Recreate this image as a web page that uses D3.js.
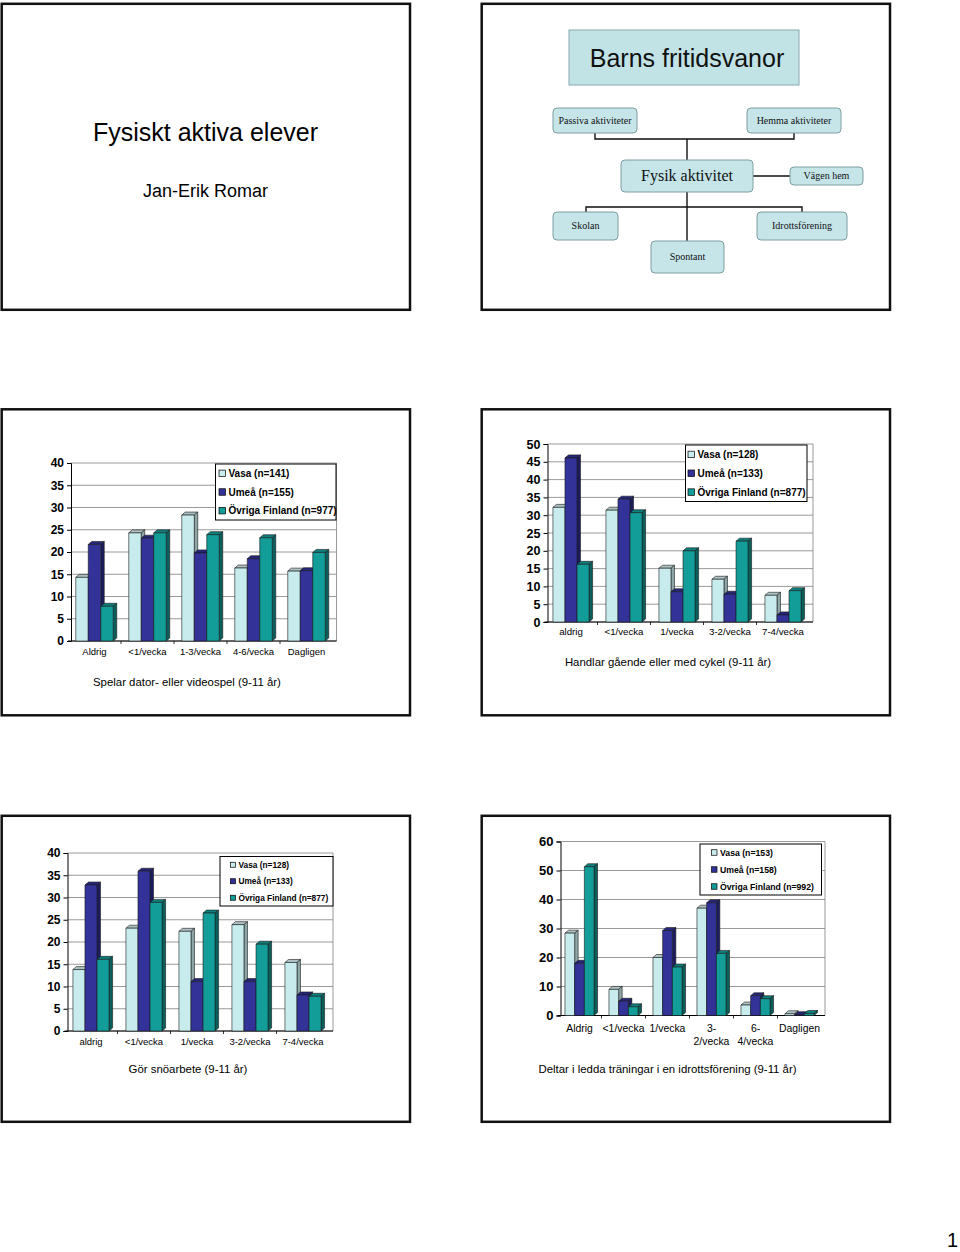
<!DOCTYPE html>
<html lang="sv">
<head>
<meta charset="UTF-8">
<title>Fysiskt aktiva elever</title>
<script src="https://d3js.org/d3.v7.min.js"></script>
<style>
    body { margin: 0; padding: 0; background: #fff; }
    svg { display: block; font-family: Arial, "Liberation Sans", sans-serif; }
</style>
</head>
<body>
<div id="page"></div>
<script>
// ---- data ----
const seriesColors = ["vasa", "umea", "ovriga"];

// Spelar dator- eller videospel
const catsSpel = ["Aldrig", "<1/vecka", "1-3/vecka", "4-6/vecka", "Dagligen"];
const legendSpel = ["Vasa (n=141)", "Umeå (n=155)", "Övriga Finland (n=977)"];
const vasaSpel = [14.3, 24.3, 28.3, 16.4, 15.7];
const umeaSpel = [21.7, 23.1, 19.8, 18.5, 15.8];
const ovrigaSpel = [7.8, 24.3, 23.9, 23.2, 19.9];

// Handlar gående eller med cykel
const catsHandla = ["aldrig", "<1/vecka", "1/vecka", "3-2/vecka", "7-4/vecka"];
const legendHandla = ["Vasa (n=128)", "Umeå (n=133)", "Övriga Finland (n=877)"];
const vasaHandla = [32.2, 31.4, 15.1, 12.0, 7.5];
const umeaHandla = [46.1, 34.5, 8.5, 7.8, 2.0];
const ovrigaHandla = [16.2, 30.7, 20.0, 22.7, 8.8];

// Gör snöarbete
const catsSno = ["aldrig", "<1/vecka", "1/vecka", "3-2/vecka", "7-4/vecka"];
const legendSno = ["Vasa (n=128)", "Umeå (n=133)", "Övriga Finland (n=877)"];
const vasaSno = [13.8, 23.1, 22.4, 23.9, 15.4];
const umeaSno = [32.8, 35.9, 11.1, 11.1, 8.1];
const ovrigaSno = [16.1, 28.9, 26.5, 19.5, 7.8];

// Deltar i ledda träningar
const catsTraning = ["Aldrig", "<1/vecka", "1/vecka", "3-\n2/vecka", "6-\n4/vecka", "Dagligen"];
const legendTraning = ["Vasa (n=153)", "Umeå (n=158)", "Övriga Finland (n=992)"];
const vasaTraning = [28.4, 9.0, 20.0, 37.0, 3.6, 0.6];
const umeaTraning = [18.0, 4.9, 29.3, 38.9, 6.8, 0.3];
const ovrigaTraning = [51.3, 3.0, 16.7, 21.4, 5.8, 0.7];

// ---- colours ----
const face = {
    vasa:   { front: "#c8ecee", top: "#aec2c4", side: "#8ea6a8" },
    umea:   { front: "#323299", top: "#26267a", side: "#1c1c5e" },
    ovriga: { front: "#129d99", top: "#0d7f7c", side: "#0a5e5c" }
};

const svg = d3.select("#page").append("svg")
    .attr("width", 960)
    .attr("height", 1252);

svg.append("rect").attr("width", 960).attr("height", 1252).attr("fill", "#fff");

// slide frames
const frameW = 408.3, frameH = 306;
[[1.7, 3.8], [481.7, 3.8], [1.7, 409.3], [481.7, 409.3], [1.7, 815.8], [481.7, 815.8]]
    .forEach(([fx, fy]) => {
        svg.append("rect")
            .attr("x", fx).attr("y", fy)
            .attr("width", frameW).attr("height", frameH)
            .attr("fill", "none")
            .attr("stroke", "#111")
            .attr("stroke-width", 2.5);
    });

// ---- slide 1 ----
svg.append("text").attr("x", 205.5).attr("y", 141)
    .attr("text-anchor", "middle").attr("font-size", 25).attr("fill", "#000")
    .text("Fysiskt aktiva elever");
svg.append("text").attr("x", 205.5).attr("y", 197)
    .attr("text-anchor", "middle").attr("font-size", 18).attr("fill", "#000")
    .text("Jan-Erik Romar");

// ---- slide 2: org chart ----
svg.append("rect").attr("x", 569).attr("y", 30).attr("width", 230).attr("height", 55)
    .attr("fill", "#c2e3e6").attr("stroke", "#8aa9ad").attr("stroke-width", 1);
svg.append("text").attr("x", 687).attr("y", 67)
    .attr("text-anchor", "middle").attr("font-size", 25).attr("fill", "#111")
    .text("Barns fritidsvanor");

const orgLines = svg.append("g").attr("stroke", "#111").attr("stroke-width", 1.4).attr("fill", "none");
orgLines.append("path").attr("d", "M595,133V139H794V133");
orgLines.append("path").attr("d", "M687,139V160");
orgLines.append("path").attr("d", "M753,176H790");
orgLines.append("path").attr("d", "M687,192V241");
orgLines.append("path").attr("d", "M586,212V207H802V212");

const orgNodes = [
    { label: "Passiva aktiviteter", x: 553, y: 108, w: 84, h: 25, fs: 10 },
    { label: "Hemma aktiviteter", x: 747, y: 108, w: 94, h: 25, fs: 10 },
    { label: "Fysik aktivitet", x: 621, y: 160, w: 132, h: 32, fs: 16 },
    { label: "Vägen hem", x: 790, y: 167, w: 73, h: 18, fs: 10 },
    { label: "Skolan", x: 553, y: 212, w: 65, h: 28, fs: 10 },
    { label: "Idrottsförening", x: 757, y: 212, w: 90, h: 28, fs: 10 },
    { label: "Spontant", x: 651, y: 241, w: 73, h: 32, fs: 10 }
];
const org = svg.append("g").selectAll("g").data(orgNodes).join("g");
org.append("rect")
    .attr("x", d => d.x).attr("y", d => d.y)
    .attr("width", d => d.w).attr("height", d => d.h)
    .attr("rx", 4)
    .attr("fill", "#c6e5e9").attr("stroke", "#7f9ea2").attr("stroke-width", 1);
org.append("text")
    .attr("x", d => d.x + d.w / 2)
    .attr("y", d => d.y + d.h / 2 + d.fs * 0.34)
    .attr("text-anchor", "middle")
    .attr("font-family", "'Liberation Serif', 'Times New Roman', serif")
    .attr("font-size", d => d.fs)
    .attr("fill", "#111")
    .text(d => d.label);

// ---- 3D clustered column chart ----
function drawChart(c) {
    const g = svg.append("g");
    const y = d3.scaleLinear().domain([0, c.max]).range([c.y0, c.yTop]);
    const x = d3.scaleBand().domain(c.cats).range([c.x0, c.x0 + c.W]);
    const xs = d3.scaleBand().domain(d3.range(c.vals.length))
        .range([0, x.bandwidth()]).paddingOuter(c.po);
    const dx = c.dx, dy = c.dy;
    const ax = c.x0 + 3, right = c.x0 + c.W + dx;
    const ticks = d3.range(0, c.max + 0.001, c.tick);

    // gridlines on the back wall
    g.append("g").selectAll("line").data(ticks).join("line")
        .attr("x1", ax).attr("x2", right)
        .attr("y1", d => y(d)).attr("y2", d => y(d))
        .attr("stroke", "#808080").attr("stroke-width", 0.8);
    g.append("line")
        .attr("x1", right).attr("x2", right)
        .attr("y1", y(c.max)).attr("y2", y(0))
        .attr("stroke", "#808080").attr("stroke-width", 0.8);

    // value axis
    const axis = d3.axisLeft(y).tickValues(ticks).tickSize(4).tickPadding(3).tickFormat(d3.format("d"));
    const ag = g.append("g").attr("transform", `translate(${ax},0)`).call(axis);
    ag.select(".domain").attr("stroke", "#000");
    ag.selectAll(".tick line").attr("stroke", "#000");
    ag.selectAll("text")
        .attr("font-family", "Arial, 'Liberation Sans', sans-serif")
        .attr("font-size", c.tfs).attr("font-weight", "bold").attr("fill", "#000");

    // floor / category axis
    g.append("line").attr("x1", c.x0).attr("x2", right).attr("y1", c.y0).attr("y2", c.y0)
        .attr("stroke", "#000").attr("stroke-width", 1);
    g.append("g").selectAll("line").data(c.cats.slice(1)).join("line")
        .attr("x1", d => x(d)).attr("x2", d => x(d))
        .attr("y1", c.y0).attr("y2", c.y0 + 3)
        .attr("stroke", "#000").attr("stroke-width", 0.8);

    // bars
    const bars = [];
    c.cats.forEach((cat, i) => {
        c.vals.forEach((arr, s) => {
            bars.push({ cat, s, v: arr[i] });
        });
    });
    const bw = xs.bandwidth();
    const bg = g.append("g").attr("stroke", "#1a1a1a").attr("stroke-width", 0.6).attr("stroke-linejoin", "round");
    bars.forEach(b => {
        const bx = x(b.cat) + xs(b.s), by = y(b.v), col = face[seriesColors[b.s]];
        bg.append("polygon")
            .attr("points", [[bx, by], [bx + dx, by - dy], [bx + bw + dx, by - dy], [bx + bw, by]].join(" "))
            .attr("fill", col.top);
        bg.append("polygon")
            .attr("points", [[bx + bw, by], [bx + bw + dx, by - dy], [bx + bw + dx, c.y0 - dy], [bx + bw, c.y0]].join(" "))
            .attr("fill", col.side);
        bg.append("rect")
            .attr("x", bx).attr("y", by)
            .attr("width", bw).attr("height", c.y0 - by)
            .attr("fill", col.front);
    });

    // category labels
    const lab = g.append("g").selectAll("text").data(c.cats).join("text")
        .attr("text-anchor", "middle")
        .attr("font-size", c.cfs).attr("fill", "#000")
        .attr("x", d => x(d) + x.bandwidth() / 2)
        .attr("y", c.labelY);
    lab.each(function (d) {
        const t = d3.select(this);
        d.split("\n").forEach((line, k) => {
            t.append("tspan")
                .attr("x", x(d) + x.bandwidth() / 2)
                .attr("dy", k === 0 ? 0 : c.cfs * 1.25)
                .text(line);
        });
    });

    // legend
    const L = c.legendBox;
    const lg = g.append("g");
    lg.append("rect").attr("x", L.x).attr("y", L.y).attr("width", L.w).attr("height", L.h)
        .attr("fill", "#fff").attr("stroke", "#000").attr("stroke-width", 1);
    const rowH = L.h / c.legend.length;
    const items = lg.selectAll("g").data(c.legend).join("g")
        .attr("transform", (d, i) => `translate(${L.x + L.pad},${L.y + rowH * (i + 0.5)})`);
    items.append("rect")
        .attr("x", 0).attr("y", -L.sw / 2)
        .attr("width", L.sw).attr("height", L.sw)
        .attr("fill", (d, i) => face[seriesColors[i]].front)
        .attr("stroke", "#000").attr("stroke-width", 0.7);
    items.append("text")
        .attr("x", L.sw + 3).attr("y", L.fs * 0.36)
        .attr("font-size", L.fs).attr("font-weight", "bold").attr("fill", "#000")
        .text(d => d);

    // chart caption
    g.append("text")
        .attr("x", c.title.x).attr("y", c.title.y)
        .attr("text-anchor", c.title.anchor)
        .attr("font-size", c.title.fs).attr("fill", "#000")
        .text(c.title.text);
}

drawChart({
    cats: catsSpel, vals: [vasaSpel, umeaSpel, ovrigaSpel], legend: legendSpel,
    x0: 68, W: 265, yTop: 463, y0: 641, max: 40, tick: 5, po: 0.62, dx: 3.5, dy: 3,
    tfs: 12, cfs: 9.5, labelY: 655,
    legendBox: { x: 215.5, y: 464, w: 120.5, h: 56, pad: 3.5, sw: 6.5, fs: 10 },
    title: { x: 93, y: 686, anchor: "start", fs: 11.4, text: "Spelar dator- eller videospel (9-11 år)" }
});

drawChart({
    cats: catsHandla, vals: [vasaHandla, umeaHandla, ovrigaHandla], legend: legendHandla,
    x0: 544.5, W: 265, yTop: 444, y0: 622, max: 50, tick: 5, po: 0.7, dx: 3.5, dy: 3,
    tfs: 12.5, cfs: 9.7, labelY: 635,
    legendBox: { x: 685.5, y: 445, w: 121.5, h: 56.5, pad: 2.5, sw: 6.5, fs: 10 },
    title: { x: 668, y: 666, anchor: "middle", fs: 11.4, text: "Handlar gående eller med cykel (9-11 år)" }
});

drawChart({
    cats: catsSno, vals: [vasaSno, umeaSno, ovrigaSno], legend: legendSno,
    x0: 64.5, W: 265, yTop: 853, y0: 1031, max: 40, tick: 5, po: 0.7, dx: 3.5, dy: 3,
    tfs: 12, cfs: 9.5, labelY: 1045,
    legendBox: { x: 220, y: 856.5, w: 113, h: 49.5, pad: 10.5, sw: 5, fs: 8.3 },
    title: { x: 188, y: 1073, anchor: "middle", fs: 11.4, text: "Gör snöarbete (9-11 år)" }
});

drawChart({
    cats: catsTraning, vals: [vasaTraning, umeaTraning, ovrigaTraning], legend: legendTraning,
    x0: 557.5, W: 264, yTop: 841.5, y0: 1015.5, max: 60, tick: 10, po: 0.77, dx: 3.5, dy: 3,
    tfs: 13, cfs: 10.4, labelY: 1032,
    legendBox: { x: 700, y: 844, w: 121.5, h: 51, pad: 11.5, sw: 5.5, fs: 8.7 },
    title: { x: 667.5, y: 1073, anchor: "middle", fs: 11.4, text: "Deltar i ledda träningar i en idrottsförening (9-11 år)" }
});

// page number
svg.append("text").attr("x", 947).attr("y", 1247)
    .attr("font-size", 20).attr("fill", "#000")
    .text("1");
</script>
</body>
</html>
